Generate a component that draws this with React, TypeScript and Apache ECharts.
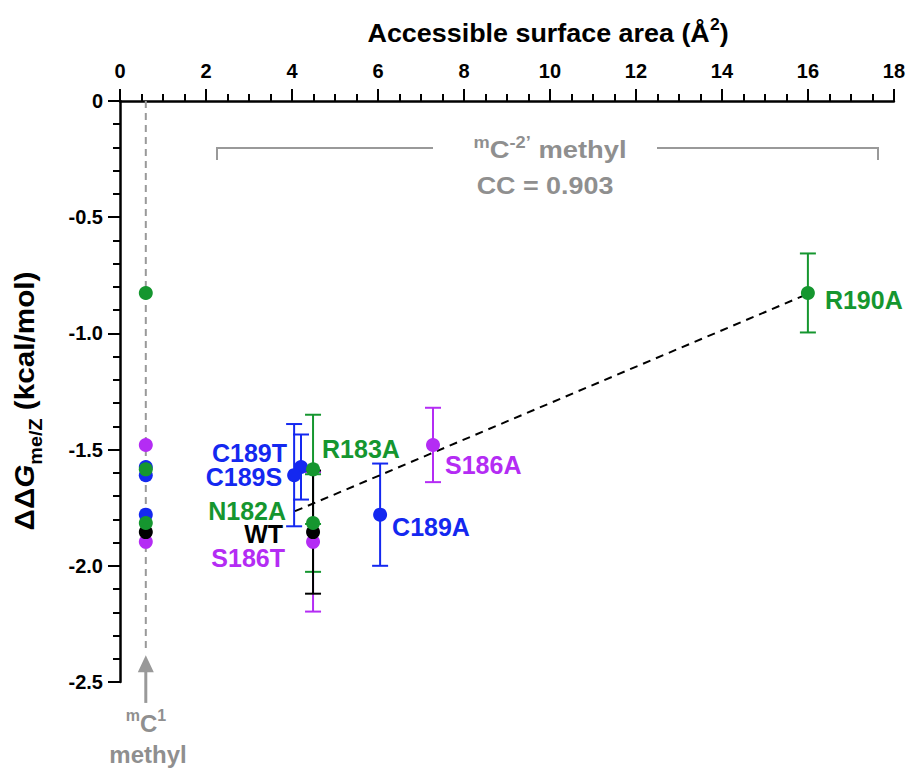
import React, { useEffect, useRef } from 'react';
import * as echarts from 'echarts';

const FAM = '"Liberation Sans", Arial, Helvetica, sans-serif';

// ---------- data ----------
const mutants = ['R190A', 'S186A', 'C189A', 'C189T', 'C189S', 'R183A', 'N182A', 'WT', 'S186T'];
const groups = ['green', 'magenta', 'blue', 'blue', 'blue', 'green', 'green', 'black', 'magenta'];
const asa = [16.0, 7.28, 6.05, 4.21, 4.05, 4.49, 4.49, 4.49, 4.49];
const ddg = [-0.826, -1.48, -1.78, -1.575, -1.61, -1.585, -1.816, -1.855, -1.897];
const ddgErr = [0.17, 0.16, 0.22, 0.14, 0.22, 0.235, 0.21, 0.265, 0.3];
const mC1Asa = 0.6;
const mC1LineBottom = -2.36;
const arrowTip = -2.385;
const arrowTail = -2.59;
const trendAsa = [4.07, 16.0];
const trendDdg = [-1.765, -0.83];
const xMin = 0, xMax = 18, xStep = 2;
const yMin = -2.5, yMax = 0, yStep = 0.5;

// ---------- styles ----------
const groupColor: Record<string, string> = {
  green: '#15962f',
  magenta: '#b42cf4',
  blue: '#1428f0',
  black: '#000000',
};
const GRAY = '#8f8f8f';
const labelPlace: Record<string, { position: string; offset: number[] }> = {
  R190A: { position: 'right', offset: [5, 7] },
  S186A: { position: 'right', offset: [0, 20] },
  C189A: { position: 'right', offset: [0, 12] },
  C189T: { position: 'left', offset: [-2, -14] },
  C189S: { position: 'left', offset: [0, 2] },
  R183A: { position: 'right', offset: [-3, -20] },
  N182A: { position: 'left', offset: [-15, -12] },
  WT: { position: 'left', offset: [-18, 2] },
  S186T: { position: 'left', offset: [-16, 16] },
};
const pointOrder = ['magenta', 'black', 'blue', 'green'];
const barOrder = ['magenta', 'green', 'blue', 'black'];

function buildOption() {
  const idx = mutants.map((_, i) => i);

  const errData: any[] = [];
  barOrder.forEach((g) => {
    idx.filter((i) => groups[i] === g).forEach((i) => {
      errData.push({ value: [asa[i], ddg[i], ddgErr[i]], itemStyle: { color: groupColor[g] } });
    });
  });

  const pointSeries = pointOrder.map((g) => {
    const members = idx.filter((i) => groups[i] === g);
    const data: any[] = [];
    members.forEach((i) => data.push({ value: [mC1Asa, ddg[i]], label: { show: false } }));
    members.forEach((i) => {
      const lp = labelPlace[mutants[i]];
      data.push({
        value: [asa[i], ddg[i]],
        name: mutants[i],
        label: {
          show: true,
          position: lp.position,
          offset: lp.offset,
          formatter: mutants[i],
          color: groupColor[g],
          fontFamily: FAM,
          fontWeight: 'bold',
          fontSize: 25,
          lineHeight: 20,
        },
      });
    });
    return {
      type: 'scatter',
      name: g,
      data,
      symbol: 'circle',
      symbolSize: 14,
      itemStyle: { color: groupColor[g], opacity: 1 },
      z: 5,
    };
  });

  const axisText = { fontFamily: FAM, fontWeight: 'bold', fontSize: 20, color: '#000' };

  const sup = (size: number, color: string) => ({
    font: `bold ${size}px ${FAM}`,
    fill: color,
    lineHeight: size,
    verticalAlign: 'top',
  });
  const main = (size: number, color: string, lh: number) => ({
    font: `bold ${size}px ${FAM}`,
    fill: color,
    lineHeight: lh,
    verticalAlign: 'bottom',
  });

  return {
    animation: false,
    backgroundColor: '#ffffff',
    grid: { left: 120, top: 101, right: 14, bottom: 87, containLabel: false },
    xAxis: {
      type: 'value',
      position: 'top',
      min: xMin,
      max: xMax,
      interval: xStep,
      axisLine: { onZero: false, lineStyle: { color: '#000', width: 2.5 } },
      axisTick: { show: true, length: 12, lineStyle: { color: '#000', width: 2 } },
      minorTick: { show: true, splitNumber: 4, length: 7, lineStyle: { color: '#000', width: 2 } },
      axisLabel: { ...axisText, margin: 20 },
      splitLine: { show: false },
    },
    yAxis: {
      type: 'value',
      min: yMin,
      max: yMax,
      interval: yStep,
      axisLine: { onZero: false, lineStyle: { color: '#000', width: 2.5 } },
      axisTick: { show: true, length: 12, lineStyle: { color: '#000', width: 2 } },
      minorTick: { show: true, splitNumber: 5, length: 7, lineStyle: { color: '#000', width: 2 } },
      axisLabel: {
        ...axisText,
        margin: 17,
        formatter: (v: number) => (v === 0 ? '0' : v.toFixed(1)),
      },
      splitLine: { show: false },
    },
    series: [
      {
        type: 'line',
        data: [[mC1Asa, yMax], [mC1Asa, mC1LineBottom]],
        symbol: 'none',
        lineStyle: { color: '#999999', width: 2, type: [7, 5] },
        z: 1,
        silent: true,
      },
      {
        type: 'custom',
        data: [[mC1Asa, arrowTip, arrowTail]],
        clip: false,
        renderItem: (params: any, api: any) => {
          const tip = api.coord([api.value(0), api.value(1)]);
          const tail = api.coord([api.value(0), api.value(2)]);
          const hw = 8, hh = 17;
          return {
            type: 'group',
            children: [
              {
                type: 'line',
                shape: { x1: tail[0], y1: tail[1], x2: tip[0], y2: tip[1] + hh - 2 },
                style: { stroke: '#999999', lineWidth: 3 },
              },
              {
                type: 'polygon',
                shape: { points: [[tip[0], tip[1]], [tip[0] - hw, tip[1] + hh], [tip[0] + hw, tip[1] + hh]] },
                style: { fill: '#999999' },
              },
            ],
          };
        },
        z: 1,
        silent: true,
      },
      {
        type: 'custom',
        data: errData,
        encode: { x: 0, y: 1 },
        renderItem: (params: any, api: any) => {
          const x = api.value(0), y = api.value(1), e = api.value(2);
          const top = api.coord([x, y + e]);
          const bot = api.coord([x, y - e]);
          const c = api.visual('color');
          const w = 8;
          const st = { stroke: c, lineWidth: 2 };
          return {
            type: 'group',
            children: [
              { type: 'line', shape: { x1: top[0], y1: top[1], x2: bot[0], y2: bot[1] }, style: st },
              { type: 'line', shape: { x1: top[0] - w, y1: top[1], x2: top[0] + w, y2: top[1] }, style: st },
              { type: 'line', shape: { x1: bot[0] - w, y1: bot[1], x2: bot[0] + w, y2: bot[1] }, style: st },
            ],
          };
        },
        z: 2,
        silent: true,
      },
      {
        type: 'line',
        data: trendAsa.map((x, i) => [x, trendDdg[i]]),
        symbol: 'none',
        lineStyle: { color: '#000', width: 2, type: [8, 6] },
        z: 3,
        silent: true,
      },
      ...pointSeries,
    ],
    graphic: [
      {
        type: 'text',
        x: 548,
        y: 31,
        scaleX: 1.035,
        style: {
          text: '{a|Accessible surface area (Å}{s|2}{a|)}',
          rich: { a: main(26, '#000', 30), s: sup(17, '#000') },
          align: 'center',
          verticalAlign: 'middle',
          font: `bold 26px ${FAM}`,
          fill: '#000',
        },
      },
      {
        type: 'text',
        x: 27,
        y: 401,
        rotation: Math.PI / 2,
        scaleX: 1.1,
        style: {
          text: '{a|ΔΔ}{g|G}{s|me/Z}{a| (kcal/mol)}',
          rich: {
            a: { font: `bold 27px ${FAM}`, fill: '#000', lineHeight: 32, verticalAlign: 'top' },
            g: { font: `italic bold 27px ${FAM}`, fill: '#000', lineHeight: 32, verticalAlign: 'top' },
            s: { font: `bold 18px ${FAM}`, fill: '#000', lineHeight: 18, padding: [16, 0, 0, 0], verticalAlign: 'top' },
          },
          align: 'center',
          verticalAlign: 'middle',
          font: `bold 27px ${FAM}`,
          fill: '#000',
        },
      },
      {
        type: 'polyline',
        shape: { points: [[217, 160], [217, 148], [433, 148]] },
        style: { stroke: '#999999', lineWidth: 2, fill: null },
      },
      {
        type: 'polyline',
        shape: { points: [[657, 148], [878, 148], [878, 160]] },
        style: { stroke: '#999999', lineWidth: 2, fill: null },
      },
      {
        type: 'text',
        x: 550,
        y: 148,
        scaleX: 1.14,
        style: {
          text: '{s|m}{a|C}{s|-2’}{a| methyl}',
          rich: { a: main(24, GRAY, 28), s: sup(16, GRAY) },
          align: 'center',
          verticalAlign: 'middle',
          font: `bold 24px ${FAM}`,
          fill: GRAY,
        },
      },
      {
        type: 'text',
        x: 545,
        y: 186,
        scaleX: 1.12,
        style: {
          text: 'CC = 0.903',
          align: 'center',
          verticalAlign: 'middle',
          font: `bold 24px ${FAM}`,
          fill: GRAY,
        },
      },
      {
        type: 'text',
        x: 146,
        y: 721,
        style: {
          text: '{s|m}{a|C}{s|1}',
          rich: { a: main(24, GRAY, 28), s: sup(16, GRAY) },
          align: 'center',
          verticalAlign: 'middle',
          font: `bold 24px ${FAM}`,
          fill: GRAY,
        },
      },
      {
        type: 'text',
        x: 148,
        y: 754,
        style: {
          text: 'methyl',
          align: 'center',
          verticalAlign: 'middle',
          font: `bold 24px ${FAM}`,
          fill: GRAY,
        },
      },
    ],
  };
}

export default function App() {
  const ref = useRef<HTMLDivElement>(null);
  useEffect(() => {
    if (!ref.current) return;
    const chart = echarts.init(ref.current, null, { renderer: 'svg' });
    chart.setOption(buildOption() as any);
    return () => chart.dispose();
  }, []);
  return (
    <div
      ref={ref}
      style={{ position: 'fixed', left: 0, top: 0, width: 908, height: 769, background: '#fff' }}
    />
  );
}
